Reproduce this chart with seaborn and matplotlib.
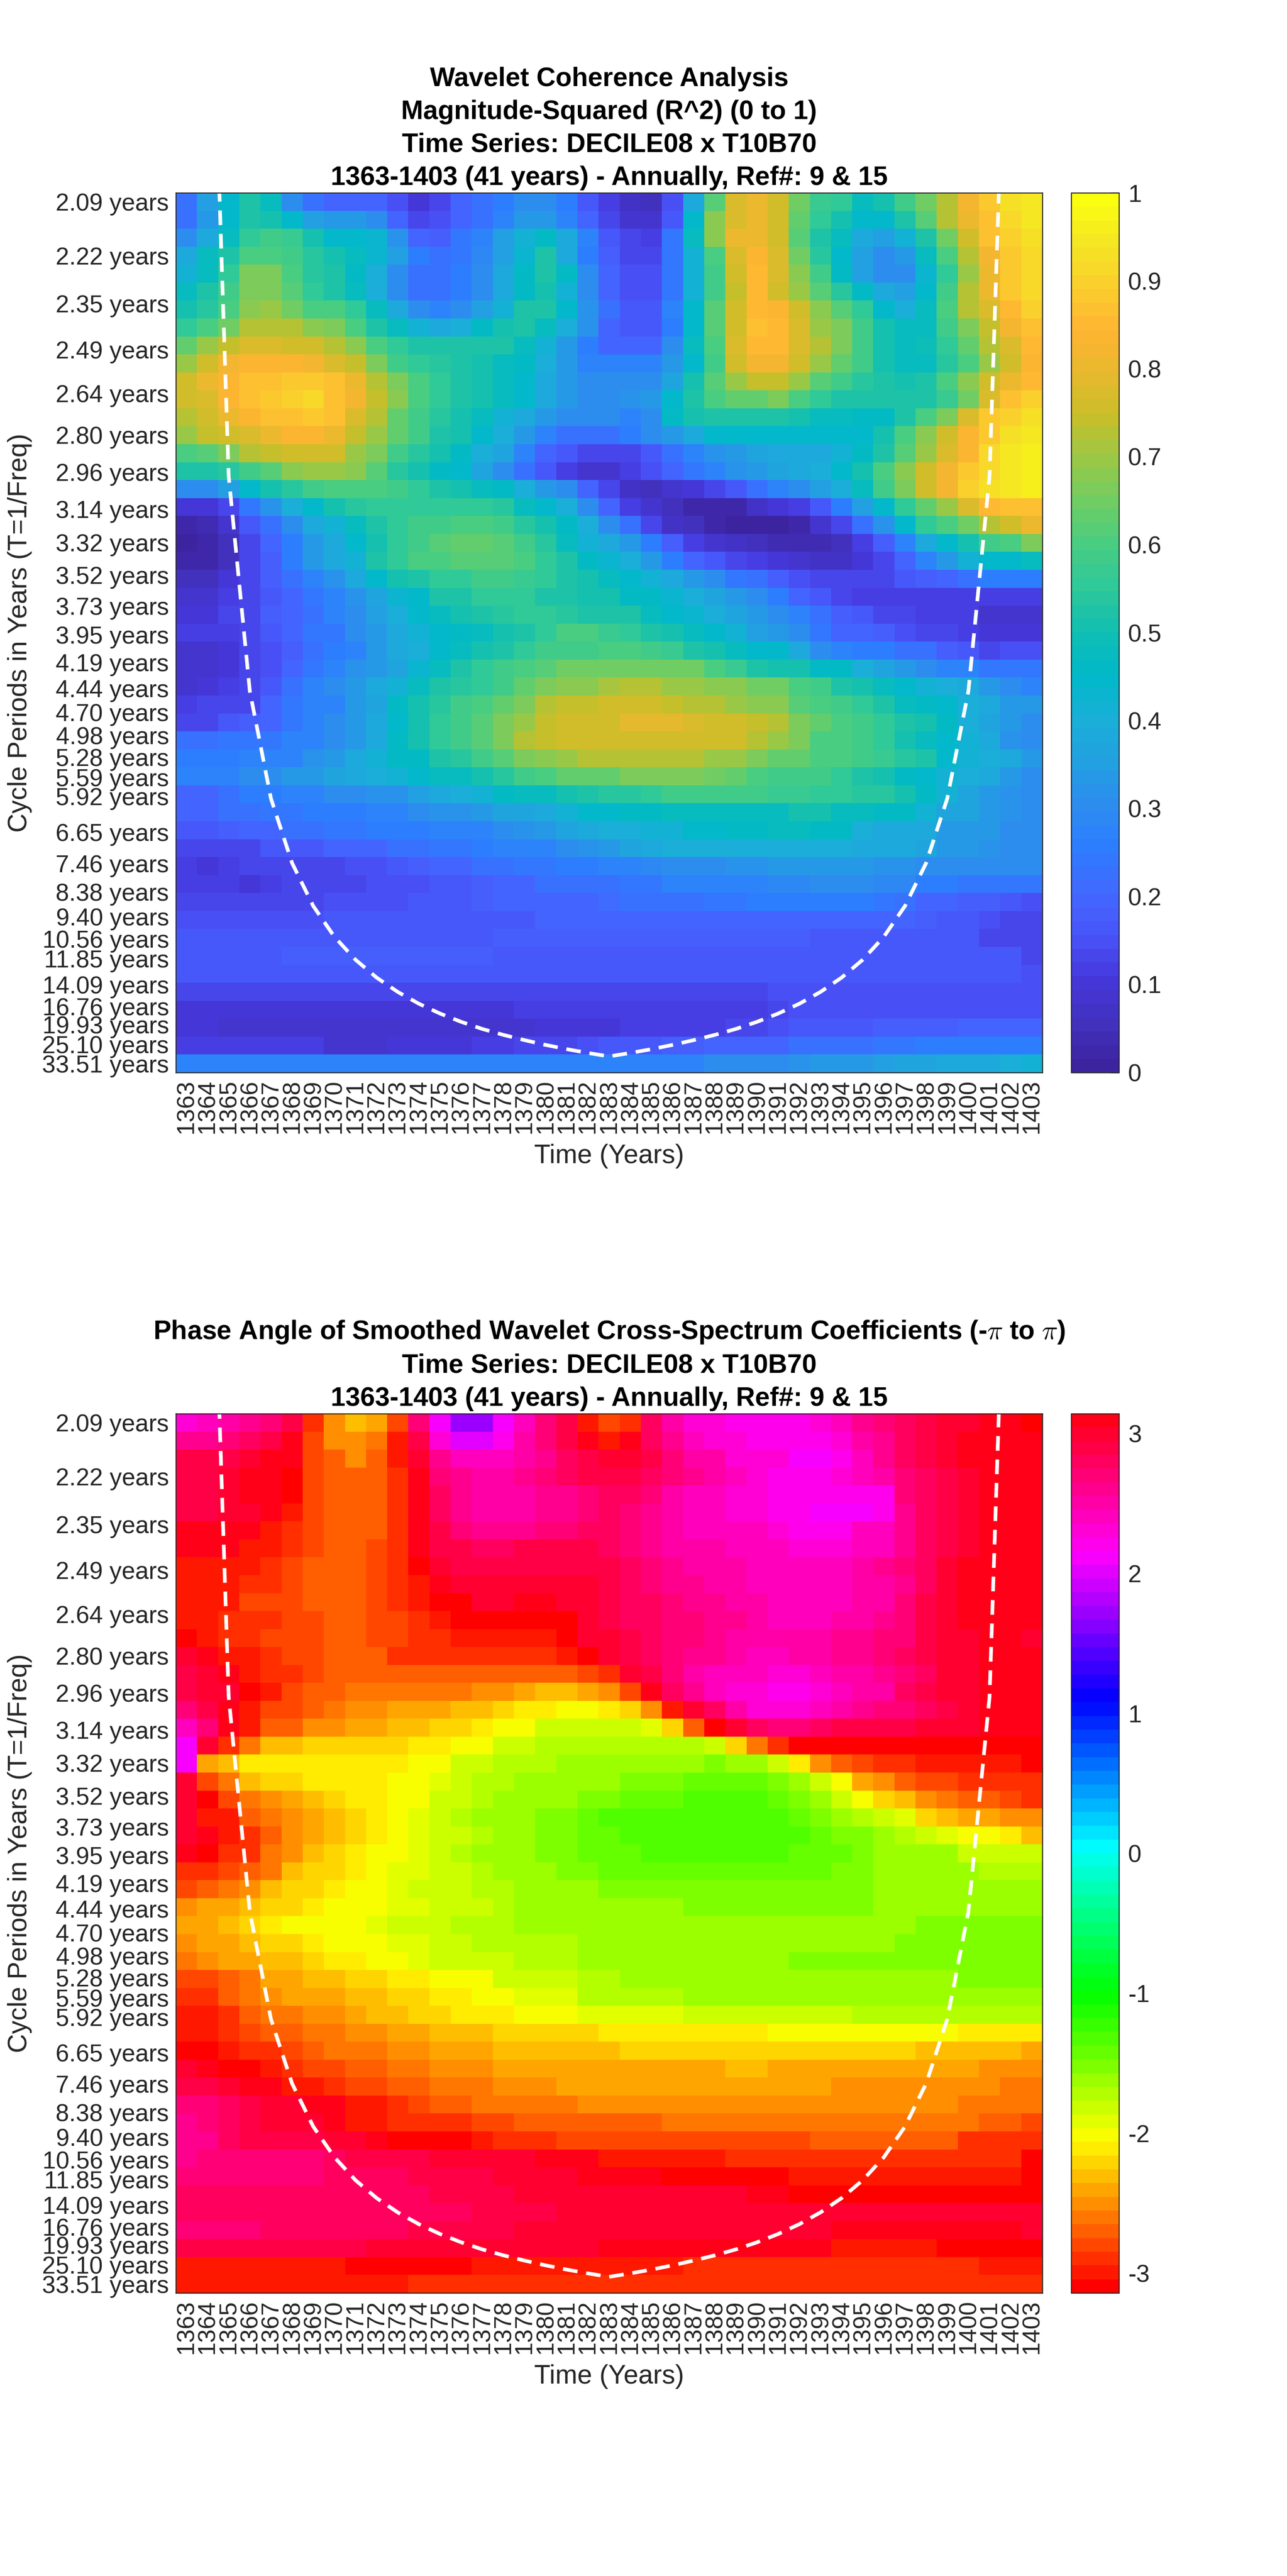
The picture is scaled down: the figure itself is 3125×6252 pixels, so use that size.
import matplotlib
matplotlib.use("Agg")
import matplotlib.pyplot as plt
from matplotlib.colors import LinearSegmentedColormap, ListedColormap
import numpy as np
import pandas as pd
import seaborn as sns

# ---------------------------------------------------------------- data
years = list(range(1363, 1404))

periods = [2.09, 2.22, 2.35, 2.49, 2.64, 2.80, 2.96, 3.14, 3.32, 3.52, 3.73, 3.95,
           4.19, 4.44, 4.70, 4.98, 5.28, 5.59, 5.92, 6.27, 6.65, 7.04, 7.46, 7.91,
           8.38, 8.88, 9.40, 9.97, 10.56, 11.18, 11.85, 12.55, 13.30, 14.09, 14.92, 15.81,
           16.76, 17.75, 18.81, 19.93, 21.12, 22.37, 23.70, 25.10, 26.60, 28.18, 29.85, 31.63,
           33.51]

labelled_periods = [2.09, 2.22, 2.35, 2.49, 2.64, 2.80, 2.96, 3.14, 3.32, 3.52, 3.73, 3.95,
                    4.19, 4.44, 4.70, 4.98, 5.28, 5.59, 5.92, 6.65, 7.46, 8.38, 9.40,
                    10.56, 11.85, 14.09, 16.76, 19.93, 25.10, 33.51]

# coherence in percent, one row per period
coherence_pct = [
    [22,35,45,52,47,30,22,20,20,20, 15,10,13,20,22,26,30,30,25,17, 11,7,6,15,38,62,77,80,75,65, 57,55,47,50,58,65,72,82,88,93, 95],
    [22,33,44,52,50,44,35,33,33,30, 20,13,15,20,23,28,33,33,28,20, 13,9,8,17,45,68,78,80,75,63, 55,50,45,45,52,62,72,80,87,92, 94],
    [30,38,47,55,58,57,50,45,45,43, 32,20,18,24,28,35,42,46,38,27, 17,13,12,24,47,68,80,80,75,62, 52,47,38,35,42,52,65,75,87,90, 93],
    [38,47,52,60,60,58,54,51,47,43, 35,25,22,24,29,35,43,52,38,26, 18,13,13,24,42,60,77,83,78,65, 54,44,35,30,34,48,60,72,82,89, 92],
    [42,47,55,66,66,60,54,52,46,40, 30,22,22,25,30,38,46,53,46,30, 20,15,15,24,42,58,75,85,78,68, 58,46,35,30,30,43,55,70,80,88, 92],
    [47,52,58,66,66,62,56,52,48,40, 30,22,22,25,30,38,46,50,42,30, 20,15,15,24,42,58,74,85,76,70, 62,54,46,38,35,44,58,72,80,88, 92],
    [50,54,60,68,70,65,60,60,55,48, 38,30,28,30,35,42,52,52,44,32, 22,17,17,27,45,62,75,85,83,75, 68,62,55,45,40,47,60,72,78,85, 90],
    [55,60,65,72,72,72,68,66,60,53, 47,42,38,40,46,50,52,48,40,32, 20,17,17,25,44,62,75,87,85,78, 70,66,58,50,47,47,58,66,74,82, 86],
    [63,70,74,78,78,75,75,72,68,60, 55,52,52,52,53,53,48,42,33,25, 20,20,20,30,47,60,78,85,85,78, 72,66,58,50,48,49,55,63,72,78, 85],
    [70,75,82,84,84,84,82,78,74,66, 58,56,54,52,50,48,46,40,33,27, 27,27,27,33,45,58,76,82,82,76, 70,64,58,50,48,48,54,60,70,76, 84],
    [76,80,84,87,87,89,89,87,80,72, 66,60,56,52,50,48,44,38,33,30, 30,30,30,36,50,62,70,74,74,70, 62,58,54,52,50,52,60,68,75,80, 85],
    [76,78,84,86,89,90,92,87,82,74, 68,60,56,52,50,48,44,38,33,30, 30,32,33,44,53,60,64,64,66,60, 55,53,52,52,52,53,57,65,78,87, 90],
    [72,76,80,84,86,86,88,87,78,72, 64,58,54,50,48,42,38,34,30,30, 30,28,30,46,50,52,52,52,52,50, 47,47,46,46,52,60,66,78,88,90, 93],
    [70,74,76,78,80,84,84,80,74,70, 64,58,53,50,44,40,33,27,22,22, 22,25,30,34,38,44,44,44,44,44, 44,44,44,50,60,68,76,84,88,93, 95],
    [60,62,66,72,74,76,76,76,70,66, 58,54,50,46,40,36,28,20,17,14, 13,14,17,22,28,32,34,36,38,38, 38,42,46,52,62,70,78,84,92,95, 96],
    [52,53,54,58,62,68,70,70,68,62, 54,50,46,44,36,30,22,17,11,9, 9,12,15,20,24,28,32,34,36,38, 40,44,50,60,68,76,82,88,92,94, 96],
    [30,30,35,45,50,54,58,60,60,60, 58,55,53,51,48,46,40,34,30,20, 14,7,5,8,10,14,17,22,27,30, 35,40,48,58,66,76,82,90,93,95, 96],
    [10,10,14,24,32,40,45,50,54,56, 56,56,55,55,55,54,48,45,40,30, 20,12,8,5,3,2,3,7,10,12, 17,25,35,45,55,63,70,78,85,87, 86],
    [2,4,8,17,22,30,38,42,47,52, 55,58,58,60,60,58,54,50,46,40, 30,22,14,7,5,2,1,1,1,3, 8,13,22,32,45,55,60,65,72,76, 80],
    [1,2,6,14,20,26,33,38,44,50, 55,58,62,63,63,62,58,54,48,42, 38,33,25,18,12,9,7,5,4,4, 4,5,12,18,28,38,45,50,58,60, 66],
    [2,3,6,14,18,26,33,38,42,52, 56,60,60,62,62,62,60,55,52,46, 43,40,33,25,20,17,14,12,10,8, 7,7,10,13,20,28,33,42,44,45, 47],
    [5,6,10,14,18,23,28,32,38,45, 50,53,55,55,58,58,57,55,52,50, 48,45,42,38,34,30,24,22,18,15, 13,13,13,13,16,18,20,22,26,26, 26],
    [9,9,11,14,17,20,24,28,32,36, 43,45,52,53,55,55,55,53,52,50, 50,46,46,43,40,37,33,30,25,20, 17,14,12,12,12,11,11,11,11,11, 11],
    [10,10,13,14,18,20,22,27,30,35, 40,45,47,50,52,54,55,55,54,53, 52,52,48,45,43,40,37,34,30,27, 22,18,16,14,13,12,12,11,9,9, 9],
    [11,11,11,13,17,20,24,24,30,33, 38,42,45,46,48,50,52,55,60,60, 57,55,53,50,47,44,42,35,34,30, 24,20,20,18,15,14,13,12,10,10, 10],
    [9,9,10,13,15,18,22,25,28,33, 38,40,44,47,50,52,55,58,58,58, 60,60,58,57,53,50,47,44,45,38, 30,27,25,25,22,22,18,16,14,15, 15],
    [9,9,10,13,15,20,24,28,32,33, 37,43,48,53,56,58,60,62,65,65, 65,65,65,65,65,60,57,52,50,50, 46,46,40,37,33,30,27,27,24,24, 24],
    [9,10,11,14,17,22,27,30,33,38, 42,47,52,54,56,58,64,66,68,68, 71,72,72,70,70,68,68,65,65,60, 58,52,50,48,45,42,40,38,33,31, 28],
    [12,13,14,14,20,24,27,28,33,37, 46,50,54,58,60,64,66,72,74,74, 75,76,76,74,72,72,70,68,68,62, 60,58,55,52,47,46,44,40,38,34, 33],
    [14,14,16,18,20,24,27,30,34,38, 44,50,56,58,62,66,70,74,76,76, 76,79,79,79,78,76,75,74,72,66, 64,60,58,56,52,50,46,40,36,33, 30],
    [22,22,24,24,24,27,27,30,34,38, 46,50,55,58,62,66,72,74,76,76, 76,76,76,76,76,75,75,72,70,66, 60,60,58,55,50,47,44,42,38,32, 30],
    [26,26,26,27,27,28,32,34,38,42, 46,46,52,54,58,62,66,68,70,72, 72,73,73,73,73,70,70,66,63,63, 60,60,58,57,54,52,44,42,40,38, 34],
    [27,27,27,30,30,33,33,36,38,40, 42,44,48,48,50,54,58,60,64,64, 64,66,66,66,66,65,63,60,58,58, 58,55,52,50,46,44,42,40,38,34, 30],
    [20,20,23,25,26,28,28,30,30,32, 32,35,38,40,42,46,47,47,50,52, 54,54,56,58,58,58,58,58,57,57, 56,55,54,54,50,46,42,36,33,32, 30],
    [19,20,22,22,24,24,26,26,26,28, 28,30,32,32,33,36,36,38,42,44, 45,46,46,48,48,48,48,48,48,50, 50,48,48,46,46,42,36,36,34,32, 30],
    [16,16,18,20,20,22,22,24,24,26, 26,26,28,28,28,30,32,34,36,38, 40,40,42,42,44,44,46,46,48,48, 46,46,40,38,38,38,34,33,33,31, 30],
    [13,14,14,14,16,17,17,20,20,20, 22,22,24,24,26,27,28,28,30,32, 33,36,38,40,40,40,40,40,40,40, 40,40,38,38,38,36,34,33,32,31, 30],
    [12,10,12,13,13,13,14,14,15,15, 16,18,20,20,22,22,24,24,25,26, 28,28,29,30,30,31,32,32,33,33, 33,33,33,32,32,30,30,30,30,30, 30],
    [12,12,11,10,12,13,13,13,13,15, 15,15,16,16,18,20,20,22,22,22, 23,24,24,27,27,27,28,28,29,29, 30,30,30,29,29,26,26,24,24,24, 24],
    [13,13,13,14,14,14,14,15,15,15, 15,16,16,17,18,20,20,20,20,20, 21,22,22,23,23,24,24,25,26,26, 26,26,26,24,22,20,20,18,18,17, 15],
    [15,15,15,15,15,15,15,16,16,16, 16,16,16,17,17,17,17,19,19,19, 19,19,19,20,20,20,20,20,20,20, 20,20,20,19,19,18,17,16,15,14, 14],
    [17,17,17,17,17,17,17,17,17,17, 17,17,17,17,17,18,18,18,18,18, 18,18,18,18,18,18,18,18,18,18, 17,17,17,17,17,17,17,16,14,14, 14],
    [17,17,17,17,17,18,18,18,18,18, 18,18,18,18,18,16,16,16,16,16, 16,16,16,16,16,16,16,16,16,16, 16,16,16,16,16,16,16,16,16,16, 14],
    [16,16,16,16,16,16,16,16,16,16, 16,16,16,16,16,16,16,16,16,16, 16,16,16,16,16,16,16,16,16,16, 16,16,16,16,16,16,16,16,16,16, 15],
    [13,13,13,13,13,13,13,13,13,13, 13,13,13,13,13,13,13,13,13,13, 13,13,13,13,14,14,14,14,15,15, 15,15,15,15,15,15,15,15,15,15, 15],
    [10,10,10,10,10,10,10,10,10,10, 10,10,10,10,10,10,11,11,11,11, 11,11,11,11,12,12,12,12,14,15, 15,15,15,15,15,15,15,15,15,15, 15],
    [10,10,9,9,9,9,9,9,9,9, 9,9,9,9,9,9,9,10,10,10, 10,11,11,12,12,12,13,14,15,16, 16,16,16,18,18,18,18,19,19,19, 19],
    [11,11,11,11,11,11,11,9,9,9, 10,10,10,10,11,12,13,13,13,15, 16,16,17,18,18,19,20,20,20,22, 22,22,23,24,24,25,25,25,25,25, 26],
    [27,27,27,27,27,27,27,27,27,27, 27,27,28,28,28,28,28,28,28,28, 28,28,28,28,28,30,30,30,30,32, 33,33,33,35,36,36,38,38,38,40, 42],
]

# phase angle in tenths of a radian, one row per period
phase_tenths = [
    [23,24,25,26,27,29,-29,-25,-23,-24, -28,27,21,17,17,21,24,27,29,-30, -28,-29,28,25,23,23,22,22,22,22, 23,24,26,27,28,29,30,30,31,31, -31],
    [26,26,27,28,29,31,-28,-25,-25,-26, -30,29,23,20,20,22,25,27,29,31, -30,31,28,26,24,23,23,22,22,22, 22,23,25,26,28,29,30,31,31,31, 31],
    [29,29,29,30,31,31,-28,-27,-25,-27, -30,30,26,24,24,24,25,26,28,29, 30,30,29,27,25,25,23,23,23,21, 21,22,24,26,28,29,30,31,31,31, 31],
    [29,29,30,31,31,-31,-28,-27,-27,-27, -29,31,27,26,25,25,26,27,28,29, 29,29,28,27,26,25,24,23,22,22, 22,23,24,25,27,28,29,30,31,31, 31],
    [29,29,30,31,31,-31,-28,-27,-27,-27, -29,31,28,26,25,25,25,26,26,27, 28,28,27,25,24,24,23,23,22,22, 22,22,22,22,27,28,29,30,31,31, 31],
    [29,29,30,30,31,-30,-28,-27,-27,-27, -29,31,28,26,25,25,25,26,26,27, 28,27,26,25,24,24,23,23,22,22, 21,21,21,22,26,28,29,30,31,31, 31],
    [31,31,31,31,-30,-29,-28,-27,-27,-27, -29,31,29,27,26,26,26,27,27,28, 28,27,26,25,24,24,24,24,23,22, 22,22,24,24,26,28,29,30,31,31, 31],
    [31,31,31,-30,-30,-29,-28,-27,-27,-28, -29,31,29,29,28,28,29,29,29,29, 28,27,26,25,25,25,24,24,24,23, 23,23,24,24,26,28,29,30,31,31, 31],
    [-30,-30,-30,-30,-29,-28,-27,-27,-27,-28, -29,-31,30,29,29,29,29,29,29,29, 29,28,27,26,25,25,25,24,24,24, 24,24,25,26,27,28,30,31,31,31, 31],
    [-30,-30,-30,-29,-29,-28,-27,-27,-27,-28, -29,-30,31,30,30,30,30,30,30,30, 29,28,27,26,26,25,25,24,24,24, 24,24,25,25,26,28,30,31,31,31, 31],
    [-30,-30,-30,-28,-28,-28,-27,-27,-27,-28, -29,-30,-31,-31,30,30,31,31,30,30, 29,28,28,27,26,26,25,25,24,24, 24,24,25,25,27,29,30,31,31,31, 31],
    [-30,-30,-29,-29,-29,-28,-28,-27,-27,-28, -28,-29,-30,-31,-31,-31,-31,-31,-31,30, 29,28,28,27,27,26,26,25,24,24, 24,25,25,26,27,29,30,31,31,31, 31],
    [-31,-30,-29,-29,-28,-28,-28,-27,-27,-28, -28,-29,-29,-30,-30,-30,-30,-30,-31,30, 30,29,28,27,27,26,25,25,25,25, 25,26,26,27,27,29,30,30,31,31, 30],
    [30,31,-30,-30,-29,-28,-28,-27,-27,-27, -29,-29,-29,-29,-29,-29,-29,-29,-30,-31, 30,29,28,27,26,26,25,24,24,25, 25,26,26,27,28,29,30,30,31,31, 31],
    [29,30,31,-30,-29,-29,-28,-27,-27,-27, -27,-27,-27,-27,-27,-27,-27,-27,-27,-28, -29,30,29,27,25,24,24,24,23,23, 24,25,25,26,27,28,30,30,31,31, 31],
    [29,30,30,-31,-30,-28,-27,-27,-26,-26, -26,-26,-26,-26,-25,-25,-24,-23,-23,-24, -25,-28,31,28,26,24,23,23,22,22, 23,24,25,25,28,29,30,30,31,31, 31],
    [27,29,31,-30,-28,-28,-27,-26,-25,-25, -24,-24,-24,-23,-23,-22,-21,-21,-20,-20, -21,-22,-25,-30,30,28,25,23,23,23, 24,25,26,27,27,28,29,30,31,31, 31],
    [24,27,31,-30,-27,-27,-25,-25,-24,-24, -23,-23,-22,-22,-21,-20,-20,-18,-18,-18, -18,-18,-19,-22,-27,-31,30,28,27,27, 28,29,29,29,29,30,30,30,31,31, 31],
    [21,30,-29,-26,-23,-23,-22,-22,-22,-22, -22,-21,-21,-20,-20,-18,-18,-17,-17,-17, -17,-17,-17,-17,-17,-18,-22,-26,-29,-31, -31,-31,-31,-31,-31,-31,-31,-31,-31,-31, -31],
    [21,-24,-23,-21,-21,-21,-21,-21,-21,-21, -21,-20,-20,-18,-18,-17,-17,-17,-16,-16, -16,-16,-16,-16,-16,-15,-16,-16,-18,-21, -25,-27,-28,-29,-29,-30,-30,-30,-30,-30, -31],
    [30,-28,-26,-23,-22,-22,-21,-21,-21,-21, -20,-20,-19,-18,-17,-17,-16,-16,-16,-16, -16,-15,-15,-15,-14,-14,-14,-14,-15,-16, -18,-20,-24,-25,-27,-28,-28,-29,-29,-29, -29],
    [30,-31,-28,-26,-25,-24,-23,-22,-21,-21, -20,-20,-18,-18,-17,-16,-16,-16,-16,-15, -15,-14,-14,-14,-13,-13,-13,-13,-14,-15, -16,-18,-20,-22,-23,-25,-26,-27,-27,-28, -29],
    [30,-30,-30,-27,-26,-25,-24,-23,-22,-21, -20,-19,-18,-17,-16,-16,-16,-15,-15,-14, -13,-13,-13,-13,-13,-13,-13,-13,-13,-14, -15,-16,-17,-18,-19,-22,-23,-24,-24,-25, -25],
    [30,31,-30,-29,-27,-25,-24,-23,-22,-21, -20,-19,-18,-18,-17,-16,-16,-15,-15,-14, -14,-13,-13,-13,-13,-13,-13,-13,-13,-13, -14,-15,-15,-16,-17,-18,-19,-20,-20,-21, -23],
    [31,-31,-29,-29,-26,-25,-23,-22,-21,-20, -20,-19,-18,-17,-16,-16,-16,-15,-15,-14, -14,-14,-13,-13,-13,-13,-13,-13,-13,-14, -14,-14,-15,-16,-16,-16,-16,-18,-18,-18, -18],
    [-29,-29,-28,-27,-26,-23,-22,-22,-21,-20, -19,-19,-18,-18,-17,-16,-16,-16,-15,-15, -14,-14,-14,-14,-14,-14,-14,-14,-14,-14, -14,-15,-15,-16,-16,-16,-16,-16,-17,-17, -17],
    [-28,-27,-26,-25,-23,-22,-22,-21,-20,-20, -19,-18,-18,-18,-17,-17,-16,-16,-16,-16, -15,-15,-15,-15,-15,-15,-15,-15,-15,-15, -15,-15,-15,-16,-16,-16,-16,-16,-16,-16, -16],
    [-25,-24,-24,-23,-22,-22,-21,-20,-20,-20, -19,-19,-18,-18,-18,-17,-16,-16,-16,-16, -16,-16,-16,-16,-15,-15,-15,-15,-15,-15, -15,-15,-15,-16,-16,-16,-16,-16,-16,-16, -16],
    [-24,-24,-23,-22,-21,-20,-20,-20,-20,-19, -18,-18,-18,-17,-17,-17,-16,-16,-16,-16, -16,-16,-16,-16,-16,-16,-16,-16,-16,-16, -16,-16,-16,-16,-16,-15,-15,-15,-15,-15, -15],
    [-25,-24,-24,-23,-22,-22,-21,-20,-20,-20, -19,-19,-18,-18,-17,-17,-17,-17,-17,-16, -16,-16,-16,-16,-16,-16,-16,-16,-16,-16, -16,-16,-16,-16,-15,-15,-15,-15,-15,-15, -15],
    [-26,-25,-24,-24,-23,-23,-22,-21,-21,-20, -20,-19,-18,-18,-18,-18,-17,-17,-17,-16, -16,-16,-16,-16,-16,-16,-16,-16,-16,-15, -15,-15,-15,-15,-15,-15,-15,-15,-15,-15, -15],
    [-28,-28,-27,-26,-24,-24,-23,-23,-22,-22, -21,-21,-20,-20,-20,-18,-18,-18,-18,-17, -17,-16,-16,-16,-16,-16,-16,-16,-16,-16, -16,-16,-16,-16,-16,-16,-16,-15,-15,-15, -15],
    [-29,-29,-27,-26,-25,-24,-24,-24,-23,-23, -22,-22,-21,-21,-20,-20,-19,-19,-19,-17, -17,-17,-17,-17,-16,-16,-16,-16,-16,-16, -16,-16,-16,-16,-16,-16,-16,-16,-16,-16, -16],
    [-30,-30,-29,-27,-26,-26,-25,-25,-24,-23, -23,-22,-22,-21,-21,-21,-20,-20,-20,-19, -19,-19,-19,-19,-18,-18,-18,-18,-18,-18, -18,-18,-17,-17,-17,-17,-17,-17,-17,-17, -17],
    [-30,-30,-29,-28,-27,-27,-26,-26,-25,-25, -24,-24,-23,-23,-23,-22,-22,-22,-22,-22, -21,-21,-21,-21,-21,-21,-21,-21,-20,-20, -20,-20,-20,-20,-20,-20,-20,-21,-21,-21, -21],
    [-31,-31,-30,-29,-29,-28,-27,-26,-26,-26, -25,-25,-24,-24,-24,-23,-23,-23,-23,-23, -23,-22,-22,-22,-22,-22,-22,-22,-22,-22, -22,-22,-22,-22,-22,-23,-23,-23,-23,-23, -24],
    [30,31,-31,-31,-30,-29,-28,-28,-27,-27, -26,-26,-25,-25,-25,-24,-24,-24,-24,-24, -24,-24,-24,-24,-24,-24,-23,-23,-24,-24, -24,-24,-24,-24,-24,-24,-24,-24,-25,-25, -25],
    [29,29,30,31,31,-30,-30,-29,-28,-28, -27,-27,-26,-26,-26,-25,-25,-25,-24,-24, -24,-24,-24,-24,-24,-24,-24,-24,-24,-24, -24,-25,-25,-25,-25,-25,-25,-25,-25,-26, -26],
    [27,27,28,29,30,30,31,31,-30,-30, -29,-28,-27,-27,-26,-26,-26,-26,-26,-25, -25,-25,-25,-25,-25,-25,-25,-25,-25,-25, -25,-25,-25,-25,-25,-25,-25,-26,-26,-26, -26],
    [26,27,28,29,30,30,30,31,-30,-30, -29,-29,-29,-29,-28,-28,-27,-27,-27,-27, -27,-27,-27,-26,-26,-26,-26,-26,-26,-26, -26,-26,-26,-26,-26,-26,-26,-26,-27,-27, -28],
    [26,26,28,29,29,29,29,30,30,31, -31,-31,-31,-31,-30,-29,-29,-29,-28,-28, -28,-28,-28,-28,-28,-28,-28,-28,-28,-28, -27,-27,-27,-27,-27,-27,-27,-29,-29,-29, -29],
    [26,27,27,27,27,27,27,28,29,29, 29,29,30,30,30,30,30,31,31,31, -30,-30,-30,-30,-30,-30,-29,-29,-29,-29, -29,-29,-29,-29,-29,-29,-29,-29,-29,-29, -31],
    [27,27,27,27,27,27,27,28,28,28, 28,29,29,29,29,30,30,30,30,31, 31,31,31,-31,-31,-31,-31,-31,-31,-30, -30,-30,-30,-30,-30,-30,-30,-30,-30,-30, -31],
    [28,28,28,28,28,28,28,28,28,28, 28,28,29,29,29,29,30,30,30,30, 30,30,30,30,30,30,30,31,31,-31, -31,-31,-31,-31,-31,-31,-31,-31,-31,-31, -31],
    [28,28,28,28,28,28,28,28,28,28, 28,28,28,28,29,29,29,29,30,30, 30,30,30,30,30,30,30,30,30,30, 30,30,30,30,30,30,30,30,30,30, 30],
    [27,27,27,27,28,28,28,28,28,28, 28,29,29,29,29,29,30,30,30,30, 30,30,30,30,30,30,30,30,30,30, 30,31,31,31,31,31,31,31,31,31, 30],
    [29,29,29,29,29,29,29,29,29,30, 30,30,30,30,30,30,30,30,30,30, 31,31,31,31,31,31,31,31,31,31, 31,-30,-30,-30,-30,-30,-31,-31,-31,-31, -31],
    [-30,-30,-30,-30,-30,-30,-30,-30,-31,-31, -31,-31,-31,-31,-30,-30,-30,-30,-30,-30, -30,-30,-30,-30,-29,-29,-29,-29,-29,-29, -29,-29,-29,-29,-29,-29,-29,-29,-30,-30, -30],
    [-30,-30,-30,-30,-30,-30,-30,-30,-30,-30, -30,-29,-29,-29,-29,-29,-29,-29,-29,-29, -29,-29,-29,-29,-29,-29,-29,-29,-29,-29, -29,-29,-29,-29,-29,-29,-29,-29,-29,-29, -29],
]

# cone of influence, one reading per year (the ends run off the top of the axes)
coi_years = [1364, 1365, 1366, 1367, 1368, 1369, 1370, 1371, 1372, 1373,
             1374, 1375, 1376, 1377, 1378, 1379, 1380, 1381, 1382, 1383,
             1384, 1385, 1386, 1387, 1388, 1389, 1390, 1391, 1392, 1393,
             1394, 1395, 1396, 1397, 1398, 1399, 1400, 1401, 1402]
coi_periods = [1.49, 2.98, 4.47, 5.96, 7.45, 8.94, 10.43, 11.92, 13.41, 14.9,
               16.4, 17.9, 19.4, 20.9, 22.35, 23.8, 25.3, 26.8, 28.3, 29.8,
               28.3, 26.8, 25.3, 23.8, 22.35, 20.9, 19.4, 17.9, 16.4, 14.9,
               13.41, 11.92, 10.43, 8.94, 7.45, 5.96, 4.47, 2.98, 1.49]

title_top = ("Wavelet Coherence Analysis\nMagnitude-Squared (R^2) (0 to 1)\n"
             "Time Series: DECILE08 x T10B70\n1363-1403 (41 years) - Annually, Ref#: 9 & 15")
title_bottom = ("Phase Angle of Smoothed Wavelet Cross-Spectrum Coefficients (-$\\pi$ to $\\pi$)\n"
                "Time Series: DECILE08 x T10B70\n1363-1403 (41 years) - Annually, Ref#: 9 & 15")

# colours, 0 to 1 in steps of 0.05
parula_rgb = [(60, 35, 160), (65, 50, 190), (70, 55, 220), (72, 85, 250), (65, 105, 255),
              (45, 125, 255), (45, 140, 240), (35, 160, 225), (25, 175, 215), (0, 185, 200),
              (15, 190, 180), (45, 200, 155), (70, 205, 130), (110, 205, 100), (155, 200, 70),
              (200, 190, 40), (230, 185, 45), (255, 180, 50), (250, 205, 45), (245, 230, 35),
              (250, 255, 15)]

# ---------------------------------------------------------------- style
sns.set_theme(style="white")
plt.rcParams['font.family'] = ['Liberation Sans', 'DejaVu Sans']
plt.rcParams['mathtext.fontset'] = 'cm'
plt.rcParams['axes.unicode_minus'] = False

FS = 10.6
FS_TITLE = 11.6
FS_LABEL = 11.6
INK = "#262626"

parula = LinearSegmentedColormap.from_list("parula", [tuple(c / 255 for c in rgb) for rgb in parula_rgb])
parula64 = ListedColormap(parula(np.linspace(0, 1, 64)))
hsv64 = ListedColormap(plt.get_cmap("hsv")(np.linspace(0, 1, 64)))


def row_pos(period):
    # the rows are evenly spaced in frequency, ticks sit at 1/T
    f0, fn = 1 / periods[0], 1 / periods[-1]
    return 0.5 + (f0 - 1 / np.asarray(period)) / (f0 - fn) * (len(periods) - 1)


def draw_panel(values, bounds, cbar_bounds, cmap, vmin, vmax, cticks, clabels, title):
    W, H = 3125, 6252
    ax = fig.add_axes([bounds[0] / W, 1 - bounds[3] / H, (bounds[2] - bounds[0]) / W, (bounds[3] - bounds[1]) / H])
    cax = fig.add_axes([cbar_bounds[0] / W, 1 - bounds[3] / H, (cbar_bounds[1] - cbar_bounds[0]) / W, (bounds[3] - bounds[1]) / H])
    df = pd.DataFrame(values, index=periods, columns=years)
    sns.heatmap(df, ax=ax, cbar_ax=cax, cmap=cmap, vmin=vmin, vmax=vmax,
                xticklabels=True, yticklabels=False)

    xlim, ylim = ax.get_xlim(), ax.get_ylim()
    ax.plot(np.array(coi_years) - years[0] + 0.5, row_pos(coi_periods), color="white", lw=1.6,
            linestyle=(0, (4, 2.4)))
    ax.set_xlim(xlim)
    ax.set_ylim(ylim)

    labels = [f"{p:.2f} years" if p in labelled_periods else "" for p in periods]
    ax.set_yticks(row_pos(periods))
    ax.set_yticklabels(labels, rotation=0, fontsize=FS, color=INK)
    ax.set_xticklabels(years, rotation=90, fontsize=FS, color=INK)
    ax.tick_params(axis="both", direction="in", length=3.8, width=0.45, color=INK,
                   top=True, right=True, bottom=True, left=True, pad=3)
    for s in ax.spines.values():
        s.set_visible(True)
        s.set_linewidth(0.45)
        s.set_color(INK)

    ax.set_ylabel("Cycle Periods in Years (T=1/Freq)", fontsize=FS_LABEL, color=INK, va="center")
    ax.yaxis.set_label_coords(-0.18, 0.5)
    ax.set_xlabel("Time (Years)", fontsize=FS_LABEL, color=INK)
    ax.xaxis.set_label_coords(0.5, -0.095)
    ax.xaxis.label.set_va("center")
    ax.set_title(title, fontsize=FS_TITLE, fontweight="bold", color="black", linespacing=1.42, pad=3.5)

    cax.set_yticks(cticks)
    cax.set_yticklabels(clabels, fontsize=FS, color=INK)
    cax.tick_params(axis="y", direction="in", length=3.6, width=0.45, color=INK, right=True, pad=4)
    cb = ax.collections[0].colorbar
    cb.outline.set_visible(True)
    cb.outline.set_linewidth(0.45)
    cb.outline.set_edgecolor(INK)
    return ax


fig = plt.figure(figsize=(3125 / 400, 6252 / 400), dpi=400, facecolor="white")

draw_panel(np.array(coherence_pct) / 100, (427, 468, 2531, 2603), (2601, 2717), parula64, 0, 1,
           [i / 10 for i in range(11)], ["0", "0.1", "0.2", "0.3", "0.4", "0.5", "0.6", "0.7", "0.8", "0.9", "1"],
           title_top)
draw_panel(np.array(phase_tenths) / 10, (427, 3431, 2531, 5565), (2601, 2717), hsv64, -np.pi, np.pi,
           [-3, -2, -1, 0, 1, 2, 3], ["-3", "-2", "-1", "0", "1", "2", "3"],
           title_bottom)

fig.savefig("out.png", dpi=400)
